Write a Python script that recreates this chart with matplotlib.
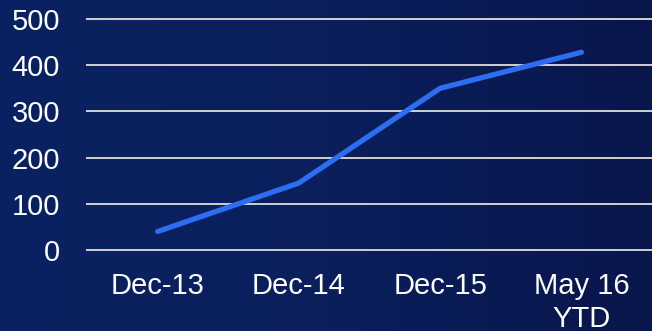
import numpy as np
import matplotlib
matplotlib.use("Agg")
import matplotlib.pyplot as plt
from matplotlib.colors import LinearSegmentedColormap

# data
categories = ["Dec-13", "Dec-14", "Dec-15", "May 16\nYTD"]
values = [40, 145, 350, 428]
yticks = [0, 100, 200, 300, 400, 500]

plt.rcParams['font.family'] = ['Liberation Sans', 'DejaVu Sans']

fig = plt.figure(figsize=(6.52, 3.31), dpi=100)

# background gradient, left to right
bg = fig.add_axes([0, 0, 1, 1], zorder=0)
grad = LinearSegmentedColormap.from_list("bg", ["#0a2262", "#0a1f5c", "#09164c"])
bg.imshow(np.linspace(0, 1, 256).reshape(1, -1), aspect="auto", cmap=grad,
          extent=[0, 1, 0, 1])
bg.set_axis_off()

ax = fig.add_axes([87 / 652, 81 / 331, 1 - 87 / 652, (250 - 19) / 331], zorder=1)
ax.patch.set_alpha(0)

x = np.arange(len(categories))
ax.plot(x, values, color="#2d6df2", lw=3.8, solid_capstyle="round", zorder=3)

ax.set_xlim(-0.5, len(categories) - 0.5)
ax.set_ylim(0, 500)
ax.set_yticks(yticks)
ax.set_xticks(x)
ax.set_xticklabels(categories, linespacing=1.2)

for y in yticks:
    ax.axhline(y, color="#d0d0d0", lw=1.4, zorder=1, clip_on=False)

for s in ax.spines.values():
    s.set_visible(False)
ax.tick_params(axis="both", length=0, colors="white", labelsize=21)
ax.tick_params(axis="y", pad=19.5)
ax.tick_params(axis="x", pad=16)

fig.savefig("out.png", dpi=100)
